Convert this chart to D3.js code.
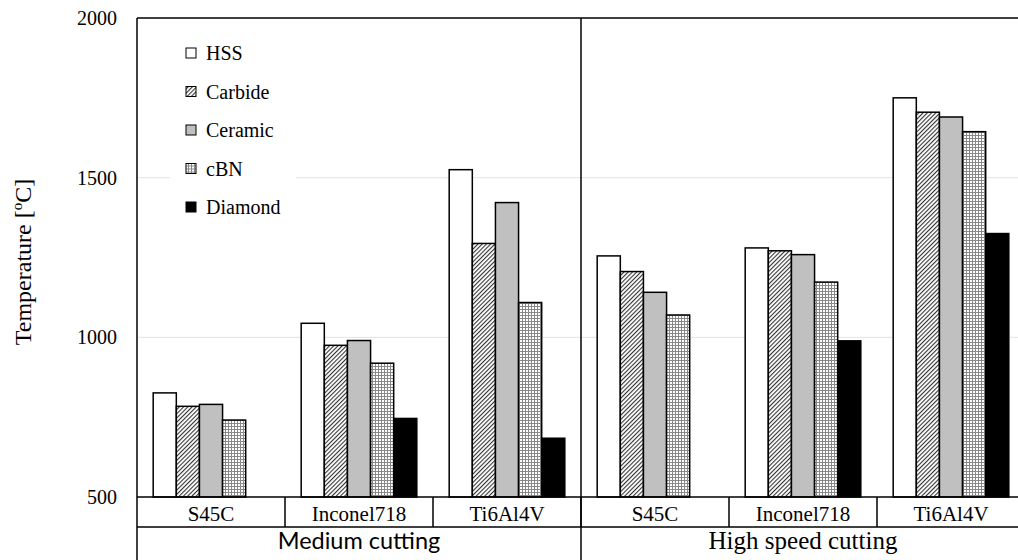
<!DOCTYPE html>
<html>
<head>
<meta charset="utf-8">
<script src="https://cdn.jsdelivr.net/npm/d3@7"></script>
<style>
  body { margin: 0; background: #fff; font-family: 'Liberation Serif', serif; }
  svg { font-family: 'Liberation Serif', serif; }
</style>
</head>
<body>
<div id="chart"></div>
<script>
const materials = ['HSS', 'Carbide', 'Ceramic', 'cBN', 'Diamond'];
const workpieces = ['S45C', 'Inconel718', 'Ti6Al4V'];
const conditions = ['Medium cutting', 'High speed cutting'];
const yTicks = [500, 1000, 1500, 2000];

// one value per group: medium S45C, Inconel718, Ti6Al4V, high S45C, Inconel718, Ti6Al4V
const hss = [826, 1044, 1525, 1255, 1280, 1750];
const carbide = [784, 975, 1294, 1206, 1271, 1705];
const ceramic = [790, 990, 1422, 1141, 1259, 1690];
const cbn = [741, 919, 1109, 1070, 1173, 1644];
const diamond = [null, 746, 684, null, 989, 1325];

const series = [hss, carbide, ceramic, cbn, diamond];
const groups = conditions.flatMap(c => workpieces.map(w => c + '|' + w));

const serifFont = 'Liberation Serif';
const sansFont = 'Lato';

const W = 1018, H = 560;
const margin = { t: 18, l: 137 };
const plotBottom = 497;
const rowH = 30;

const svg = d3.select('#chart').append('svg')
  .attr('width', W)
  .attr('height', H);

// patterns
const defs = svg.append('defs');
const hatch = defs.append('pattern')
  .attr('id', 'hatch')
  .attr('patternUnits', 'userSpaceOnUse')
  .attr('width', 3).attr('height', 3)
  .attr('patternTransform', 'rotate(45)');
hatch.append('rect').attr('width', 3).attr('height', 3).attr('fill', '#fff');
hatch.append('line')
  .attr('x1', 0).attr('y1', 0).attr('x2', 0).attr('y2', 3)
  .attr('stroke', '#333').attr('stroke-width', 2.2);

const grid = defs.append('pattern')
  .attr('id', 'grid')
  .attr('patternUnits', 'userSpaceOnUse')
  .attr('width', 3).attr('height', 3);
grid.append('rect').attr('width', 3).attr('height', 3).attr('fill', '#fff');
grid.append('path')
  .attr('d', 'M0,0.5H3M0.5,0V3')
  .attr('stroke', '#888').attr('stroke-width', 1);

const fills = ['#fff', 'url(#hatch)', '#c0c0c0', 'url(#grid)', '#000'];
const color = d3.scaleOrdinal().domain(materials).range(fills);

// scales
const x0 = d3.scaleBand()
  .domain(groups)
  .range([margin.l, margin.l + 148 * groups.length]);

const x1 = d3.scaleBand()
  .domain(materials)
  .range([0, x0.bandwidth()])
  .paddingOuter(0.7);

const y = d3.scaleLinear()
  .domain([500, 2000])
  .range([plotBottom, margin.t]);

// gridlines
svg.append('g')
  .selectAll('line')
  .data([1000, 1500])
  .join('line')
  .attr('x1', margin.l).attr('x2', W)
  .attr('y1', d => y(d)).attr('y2', d => y(d))
  .attr('stroke', '#e3e3e3')
  .attr('stroke-width', 1);

// bars
const rows = [];
groups.forEach((g, gi) => {
  materials.forEach((m, mi) => {
    const v = series[mi][gi];
    if (v != null) rows.push({ g, m, v });
  });
});

svg.append('g')
  .selectAll('rect')
  .data(rows)
  .join('rect')
  .attr('x', d => x0(d.g) + x1(d.m))
  .attr('y', d => y(d.v))
  .attr('width', x1.bandwidth())
  .attr('height', d => y(500) - y(d.v))
  .attr('fill', d => color(d.m))
  .attr('stroke', '#000')
  .attr('stroke-width', 1.5);

// y axis labels
const yAxis = d3.axisLeft(y).tickValues(yTicks).tickFormat(d3.format('d')).tickSize(0).tickPadding(20);
svg.append('g')
  .attr('transform', `translate(${margin.l}, 0)`)
  .call(yAxis)
  .attr('font-family', null)
  .attr('font-size', null)
  .call(g => g.select('.domain').remove())
  .selectAll('text')
  .style('font-family', serifFont)
  .style('font-size', '20px')
  .attr('fill', '#000');

svg.append('text')
  .attr('transform', `translate(31, 262) rotate(-90)`)
  .attr('text-anchor', 'middle')
  .style('font-family', serifFont)
  .style('font-size', '24px')
  .html('Temperature [<tspan dy="-9" font-size="15">o</tspan><tspan dy="9">C]</tspan>');

// frame
const frame = svg.append('g').attr('stroke', '#000').attr('stroke-width', 1.5);
frame.append('line').attr('x1', margin.l).attr('x2', W).attr('y1', margin.t).attr('y2', margin.t);
frame.append('line').attr('x1', margin.l).attr('x2', margin.l).attr('y1', margin.t).attr('y2', H);
frame.append('line').attr('x1', margin.l).attr('x2', W).attr('y1', plotBottom).attr('y2', plotBottom);
frame.append('line').attr('x1', margin.l).attr('x2', W).attr('y1', plotBottom + rowH).attr('y2', plotBottom + rowH);

const midX = x0(groups[3]);
frame.append('line').attr('x1', midX).attr('x2', midX).attr('y1', margin.t).attr('y2', H);

// separators between workpieces in the first label row
frame.selectAll('.sep')
  .data(groups.slice(1))
  .join('line')
  .attr('class', 'sep')
  .attr('x1', d => x0(d)).attr('x2', d => x0(d))
  .attr('y1', plotBottom).attr('y2', plotBottom + rowH);

// workpiece labels
svg.append('g')
  .selectAll('text')
  .data(groups)
  .join('text')
  .attr('x', d => x0(d) + x0.bandwidth() / 2)
  .attr('y', plotBottom + 24)
  .attr('text-anchor', 'middle')
  .style('font-family', serifFont)
  .style('font-size', '21px')
  .text(d => d.split('|')[1]);

// condition labels
svg.append('text')
  .attr('x', x0(groups[0]) + x0.bandwidth() * 1.5)
  .attr('y', plotBottom + rowH + 22)
  .attr('text-anchor', 'middle')
  .style('font-family', sansFont)
  .style('font-size', '23.5px')
  .text(conditions[0]);

svg.append('text')
  .attr('x', x0(groups[3]) + x0.bandwidth() * 1.5)
  .attr('y', plotBottom + rowH + 22)
  .attr('text-anchor', 'middle')
  .style('font-family', serifFont)
  .style('font-size', '25px')
  .text(conditions[1]);

// legend
const legend = svg.append('g').attr('transform', 'translate(170, 34)');
legend.append('rect')
  .attr('width', 126).attr('height', 190)
  .attr('fill', '#fff');

const item = legend.selectAll('.item')
  .data(materials)
  .join('g')
  .attr('class', 'item')
  .attr('transform', (d, i) => `translate(0, ${19 + i * 38.5})`);

item.append('rect')
  .attr('x', 16).attr('y', -5)
  .attr('width', 10).attr('height', 10)
  .attr('fill', d => color(d))
  .attr('stroke', '#000')
  .attr('stroke-width', 1);

item.append('text')
  .attr('x', 36)
  .attr('y', 7)
  .style('font-family', serifFont)
  .style('font-size', '20px')
  .text(d => d);
</script>
</body>
</html>
